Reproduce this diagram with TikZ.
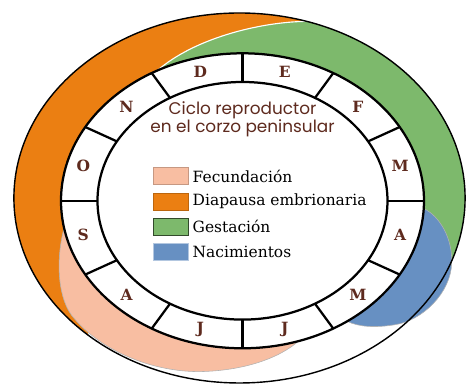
\documentclass[tikz,border=0pt]{standalone}
\usepackage{fontspec}
\usepackage{tikz}
\usetikzlibrary{positioning}
\newfontfamily\titlefont{Poppins}
\newfontfamily\legendfont{DejaVu Serif}
\definecolor{naranja}{HTML}{EB7F12}
\definecolor{verde}{HTML}{7DB96C}
\definecolor{azul}{HTML}{6790C2}
\definecolor{rosa}{HTML}{F8BEA2}
\definecolor{marron}{HTML}{5E2A1E}
\tikzset{
  ringline/.style={line width=1.6pt},
  month/.style={text=marron,font=\legendfont\bfseries\fontsize{11}{12}\selectfont},
  legbox/.style={minimum width=0.875cm,minimum height=0.425cm,inner sep=0pt,line width=0.6pt},
  legtext/.style={inner sep=0pt,anchor=west,font=\legendfont\fontsize{11}{13}\selectfont},
}

\begin{document}
\begin{tikzpicture}
\useasboundingbox (-6.0625,-4.605) rectangle (5.5875,5.02);
% bands
\fill[naranja] (1.602,4.486) arc[start angle=72.7,end angle=228,x radius=5.64,y radius=4.625] -- (190.6:4.5375 and 3.6875) arc[start angle=190.6,end angle=100,x radius=4.5375,y radius=3.6875] -- cycle;
\fill[verde] (118:4.5375 and 3.6875) .. controls (-1.19,4.07) and (0.44,4.47) .. (1.602,4.486) arc[start angle=72.7,end angle=-20,x radius=5.64,y radius=4.625] -- (-3:4.5375 and 3.6875) arc[start angle=-3,end angle=118,x radius=4.5375,y radius=3.6875] -- cycle;
\draw[white,line width=0.8pt] (118:4.5375 and 3.6875) .. controls (-1.19,4.07) and (0.44,4.47) .. (1.602,4.486);
\filldraw[fill=rosa,draw=gray!60,line width=0.4pt] (190.6:4.5375 and 3.6875) arc[start angle=190.6,end angle=288,x radius=4.5375,y radius=3.6875] .. controls (0.9,-3.95) and (0,-4.25) .. (-1.06,-4.27) .. controls (-2.3,-4.28) and (-3.55,-3.72) .. (-4.2,-2.95) .. controls (-4.62,-2.5) and (-4.68,-1.5) .. (190.6:4.5375 and 3.6875) -- cycle;
\filldraw[fill=azul,draw=gray!60,line width=0.4pt] (-54.8:4.5375 and 3.6875) arc[start angle=-54.8,end angle=-3,x radius=4.5375,y radius=3.6875] .. controls (4.95,-0.4) and (5.25,-0.95) .. (5.23,-1.555) .. controls (5.21,-2.3) and (4.5,-3.0) .. (3.8,-3.1) .. controls (3.3,-3.18) and (2.9,-3.15) .. (-54.8:4.5375 and 3.6875) -- cycle;
\draw[line width=1pt] (-0.075,0.07) ellipse [x radius=5.64, y radius=4.625];
% month ring
\filldraw[fill=white,ringline] (0,0) ellipse [x radius=4.5375, y radius=3.6875];
\draw[ringline] (0,0) ellipse [x radius=3.625, y radius=2.97];
\draw[ringline] (0:3.625 and 2.97) -- (0:4.5375 and 3.6875);
\draw[ringline] (30:3.625 and 2.97) -- (30:4.5375 and 3.6875);
\draw[ringline] (60:3.625 and 2.97) -- (60:4.5375 and 3.6875);
\draw[ringline] (90:3.625 and 2.97) -- (90:4.5375 and 3.6875);
\draw[ringline] (120:3.625 and 2.97) -- (120:4.5375 and 3.6875);
\draw[ringline] (150:3.625 and 2.97) -- (150:4.5375 and 3.6875);
\draw[ringline] (180:3.625 and 2.97) -- (180:4.5375 and 3.6875);
\draw[ringline] (210:3.625 and 2.97) -- (210:4.5375 and 3.6875);
\draw[ringline] (240:3.625 and 2.97) -- (240:4.5375 and 3.6875);
\draw[ringline] (270:3.625 and 2.97) -- (270:4.5375 and 3.6875);
\draw[ringline] (300:3.625 and 2.97) -- (300:4.5375 and 3.6875);
\draw[ringline] (330:3.625 and 2.97) -- (330:4.5375 and 3.6875);
\node[month] (dic) at (105:4.08 and 3.33) {D};
\node[month] (ene) at (75:4.08 and 3.33) {E};
\node[month] (feb) at (45:4.08 and 3.33) {F};
\node[month] (mar) at (15:4.08 and 3.33) {M};
\node[month] (abr) at (-15:4.08 and 3.33) {A};
\node[month] (may) at (-45:4.08 and 3.33) {M};
\node[month] (jun) at (-75:4.08 and 3.33) {J};
\node[month] (jul) at (-105:4.08 and 3.33) {J};
\node[month] (ago) at (-135:4.1 and 3.33) {A};
\node[month] (sep) at (-165:4.12 and 3.33) {S};
\node[month] (oct) at (165:4.12 and 3.33) {O};
\node[month] (nov) at (135:4.1 and 3.33) {N};
% title and legend
\node[text=marron,font=\titlefont\fontsize{12}{12.8}\selectfont,align=center] (titulo) at (0,2.045) {Ciclo reproductor\\en el corzo peninsular};
\node[legbox,fill=rosa,draw=rosa!80!black] (bF) at (-1.8,0.61) {};
\node[legbox,fill=naranja,draw=naranja!80!black,below=0.185cm of bF] (bD) {};
\node[legbox,fill=verde,draw=verde!40!black,below=0.185cm of bD] (bG) {};
\node[legbox,fill=azul,draw=azul!50!white,below=0.185cm of bG] (bN) {};
\node[legtext,right=0.1cm of bF] (tF) {Fecundación};
\node[legtext,right=0.1cm of bD] (tD) {Diapausa embrionaria};
\node[legtext,right=0.1cm of bG] (tG) {Gestación};
\node[legtext,right=0.1cm of bN] (tN) {Nacimientos};
\end{tikzpicture}
\end{document}
